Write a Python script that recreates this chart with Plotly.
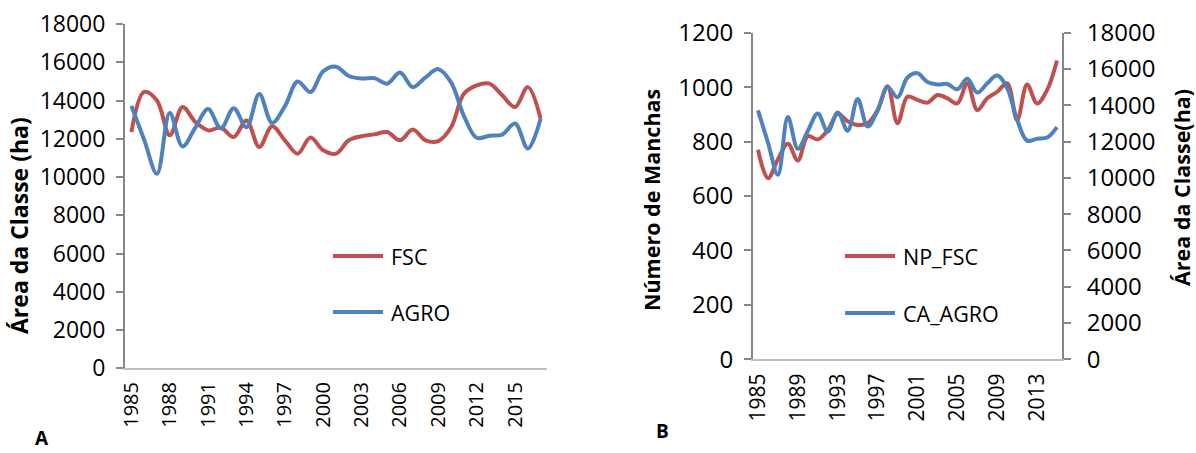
import plotly.graph_objects as go

# Panel A: class area (ha) per year
years_a = list(range(1985, 2018))
fsc_area = [12350, 14450, 14000, 12180, 13660, 12880, 12440, 12580, 12090, 12960,
            11570, 12650, 11920, 11220, 12060, 11400, 11220, 11920, 12130, 12230,
            12350, 11920, 12480, 11920, 11880, 12600, 14350, 14790, 14880, 14270,
            13660, 14700, 13050]
agro_area = [13720, 11950, 10170, 13350, 11600, 12580, 13550, 12540, 13600, 12600,
             14340, 12830, 13700, 14990, 14440, 15530, 15770, 15280, 15150, 15170,
             14880, 15460, 14700, 15210, 15640, 14950, 13200, 12050, 12160, 12220,
             12800, 11490, 13050]

# Panel B: number of patches (FSC) and class area (AGRO)
years_b = list(range(1985, 2016))
np_fsc = [770, 665, 735, 792, 730, 820, 808, 842, 902, 875,
          861, 867, 916, 1003, 867, 965, 953, 943, 971, 959,
          940, 1014, 916, 959, 983, 1014, 879, 1010, 940, 989, 1098]
ca_agro = agro_area[:len(years_b)]

RED = "#C0504D"
BLUE = "#4F81BD"
AXIS = "#868686"
FONT = "Open Sans"
W, H = 1196, 453


def fx(x):
    return x / W


def fy(y):
    return 1 - y / H


fig = go.Figure()

line_kw = dict(mode="lines", line_shape="spline", showlegend=False)
fig.add_trace(go.Scatter(x=years_a, y=fsc_area, line=dict(color=RED, width=4, smoothing=1),
                         xaxis="x", yaxis="y", name="FSC", **line_kw))
fig.add_trace(go.Scatter(x=years_a, y=agro_area, line=dict(color=BLUE, width=4, smoothing=1),
                         xaxis="x", yaxis="y", name="AGRO", **line_kw))
fig.add_trace(go.Scatter(x=years_b, y=np_fsc, line=dict(color=RED, width=4, smoothing=1),
                         xaxis="x2", yaxis="y3", name="NP_FSC", **line_kw))
fig.add_trace(go.Scatter(x=years_b, y=ca_agro, line=dict(color=BLUE, width=4, smoothing=1),
                         xaxis="x2", yaxis="y4", name="CA_AGRO", **line_kw))


def yax(size, standoff):
    return dict(showgrid=False, zeroline=False, showline=True, linecolor=AXIS, linewidth=2,
                ticks="outside", ticklen=7, tickcolor=AXIS, tickwidth=1.5,
                tickfont=dict(family=FONT, size=size, color="#000000"),
                ticklabelstandoff=standoff, tickformat="d", automargin=False)


def xax(size):
    return dict(showgrid=False, zeroline=False, showline=True, linecolor="#BFBFBF",
                linewidth=1.5, ticks="", tickangle=-90,
                tickfont=dict(family=FONT, size=size, color="#000000"),
                ticklabelstandoff=4, tickformat="d", automargin=False)


fig.update_layout(
    template="none",
    width=W, height=H,
    margin=dict(l=0, r=0, t=0, b=0, autoexpand=False),
    paper_bgcolor="white", plot_bgcolor="white",
    xaxis=dict(domain=[fx(125), fx(547)], range=[1984.5, 2017.5], tick0=1985, dtick=3,
               anchor="y", **xax(20)),
    yaxis=dict(domain=[fy(368.3), fy(24)], range=[0, 18000], dtick=2000,
               anchor="x", **yax(23, 6)),
    xaxis2=dict(domain=[fx(753), fx(1062)], range=[1984.5, 2015.5], tick0=1985, dtick=4,
                anchor="y3", **xax(21)),
    yaxis3=dict(domain=[fy(359.3), fy(32.7)], range=[0, 1200], dtick=200,
                anchor="x2", **yax(24, 6)),
    yaxis4=dict(range=[0, 18000], dtick=2000, overlaying="y3", side="right",
                anchor="x2", **yax(24, 11)),
)

shapes = []
annotations = []


def legend_entry(x0, y, color, text):
    shapes.append(dict(type="line", xref="paper", yref="paper",
                       x0=fx(x0), x1=fx(x0 + 50), y0=fy(y), y1=fy(y),
                       line=dict(color=color, width=4)))
    annotations.append(dict(x=fx(x0 + 56), y=fy(y), xref="paper", yref="paper",
                            text=text, showarrow=False, xanchor="left", yanchor="middle",
                            font=dict(family=FONT, size=21.5, color="#000000")))


legend_entry(333, 256, RED, "FSC")
legend_entry(333, 312, BLUE, "AGRO")
legend_entry(845, 256, RED, "NP_FSC")
legend_entry(845, 313, BLUE, "CA_AGRO")


def label(x, y, text, size, angle=0):
    annotations.append(dict(x=fx(x), y=fy(y), xref="paper", yref="paper",
                            text=f"<b>{text}</b>", textangle=angle, showarrow=False,
                            xanchor="center", yanchor="middle",
                            font=dict(family=FONT, size=size, color="#000000")))


label(19, 226, "Área da Classe (ha)", 23, -90)
label(651, 200, "Número de Manchas", 21.5, -90)
label(1181, 188, "Área da Classe(ha)", 21.5, -90)
label(42, 438, "A", 19)
label(662, 431, "B", 19)

fig.update_layout(shapes=shapes, annotations=annotations)
fig.write_html("out.html")
